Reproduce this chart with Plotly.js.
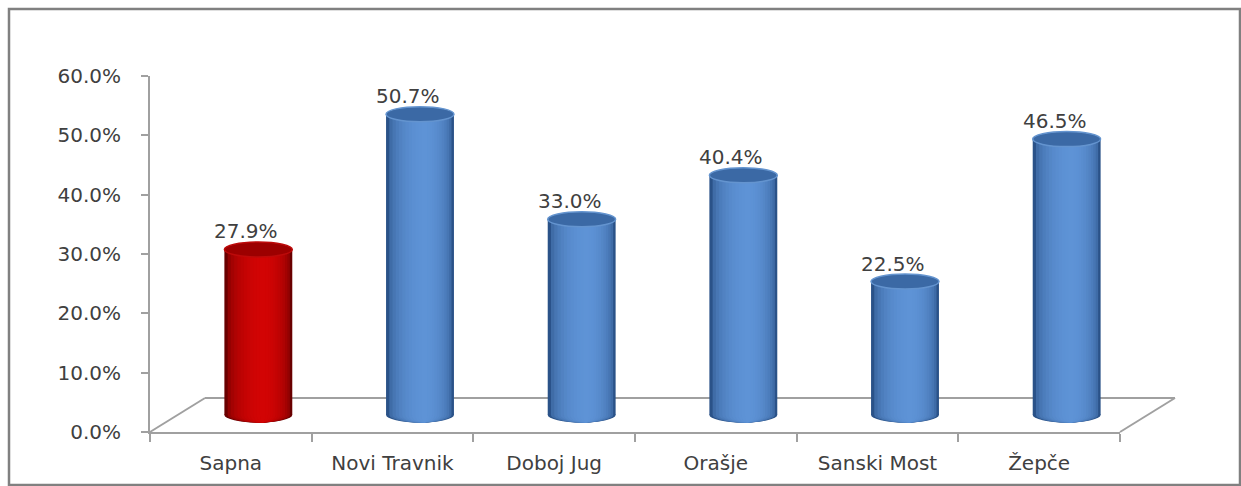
<!DOCTYPE html>
<html>
<head>
<meta charset="utf-8">
<script src="https://cdn.plot.ly/plotly-3.0.1.min.js"></script>
<style>
  html, body { margin: 0; padding: 0; background: #ffffff; }
  #chart { width: 1241px; height: 486px; }
</style>
</head>
<body>
<div id="chart"></div>
<script>
// ---- data ----
const categories = ['Sapna', 'Novi Travnik', 'Doboj Jug', 'Orašje', 'Sanski Most', 'Žepče'];
const values = [27.9, 50.7, 33.0, 40.4, 22.5, 46.5];
const highlightCategory = 'Sapna';
const yTickValues = [0, 10, 20, 30, 40, 50, 60];
const yTickLabels = ['0.0%', '10.0%', '20.0%', '30.0%', '40.0%', '50.0%', '60.0%'];

// ---- geometry (pixels) ----
const W = 1241, H = 486;
const M = { l: 150, r: 65, t: 59, b: 54 };
const plotW = W - M.l - M.r;   // 1026
const plotH = H - M.t - M.b;   // 373
const frontW = 970;            // width of the front x-axis
const frontH = 356;            // height of the y-axis
const depthX = 55, depthY = 34; // 3D floor depth
const midX = 27.5, midY = 17;   // cylinder centre depth offset
const yMax = 60;
const unitPx = frontH / yMax;
const yPadBelow = 2.5;          // room below zero for the cylinder bottoms

const px = x => (x - M.l) / plotW;
const py = y => (M.t + plotH - y) / plotH;

// ---- styles ----
const FONT = 'DejaVu Sans';
const FS = 20;
const TXT = '#404040';
const AXIS = '#a0a0a0';
const palettes = {
  red:  { edge: [105, 0, 0],   center: [210, 4, 4],    top: '#9c0000', rim: '#bd0a0a' },
  blue: { edge: [42, 82, 136], center: [94, 147, 214], top: '#3b69a5', rim: '#6494cf' }
};
const palFor = c => (c === highlightCategory ? palettes.red : palettes.blue);
const mix = (a, b, t) => 'rgb(' + a.map((v, i) => Math.round(v + (b[i] - v) * t)).join(',') + ')';

const barW = 0.42;        // in category units
const ryPx = 7.5;
const ry = ryPx / unitPx; // in y2 data units
const N = 12;
const shift = 0.03;

const traces = [];
const shapes = [];

// floor (behind bars)
const floorLine = { color: AXIS, width: 2 };
shapes.push({ type: 'line', xref: 'paper', yref: 'paper', layer: 'below',
  x0: px(M.l + depthX), y0: py(M.t + plotH - depthY), x1: px(M.l + frontW + depthX), y1: py(M.t + plotH - depthY), line: floorLine });
shapes.push({ type: 'line', xref: 'paper', yref: 'paper', layer: 'below',
  x0: px(M.l), y0: py(M.t + plotH), x1: px(M.l + depthX), y1: py(M.t + plotH - depthY), line: floorLine });
shapes.push({ type: 'line', xref: 'paper', yref: 'paper', layer: 'below',
  x0: px(M.l + frontW), y0: py(M.t + plotH), x1: px(M.l + frontW + depthX), y1: py(M.t + plotH - depthY), line: floorLine });

// cylinder bodies as layered overlay bars
for (let k = 0; k < N; k++) {
  const f = 1 - k / N;                 // width fraction
  const b = Math.sqrt(1 - f * f);      // brightness
  const w = barW * f;
  const off = -w / 2 + shift * (1 - f);
  const colors = categories.map(c => { const p = palFor(c); return mix(p.edge, p.center, b); });
  traces.push({
    type: 'bar', x: categories, y: values, xaxis: 'x2', yaxis: 'y2',
    width: w, offset: off, marker: { color: colors, line: { width: 0 } },
    hoverinfo: 'skip', showlegend: false
  });
  categories.forEach((c, i) => {
    shapes.push({ type: 'circle', xref: 'x2', yref: 'y2', layer: 'below',
      x0: i + off, x1: i + off + w, y0: -ry, y1: ry,
      fillcolor: colors[i], line: { width: 0 } });
  });
}
// cylinder tops
categories.forEach((c, i) => {
  const p = palFor(c);
  shapes.push({ type: 'circle', xref: 'x2', yref: 'y2', layer: 'above',
    x0: i - barW / 2, x1: i + barW / 2, y0: values[i] - ry, y1: values[i] + ry,
    fillcolor: p.top, line: { color: p.rim, width: 1.5 } });
});

// outer frame
shapes.push({ type: 'rect', xref: 'paper', yref: 'paper', layer: 'above',
  x0: px(9), x1: px(1240), y0: py(9), y1: py(485),
  fillcolor: 'rgba(0,0,0,0)', line: { color: '#808080', width: 2.5 } });

// value labels
const annotations = categories.map((c, i) => ({
  xref: 'x2', yref: 'y2', x: i, y: values[i], xshift: -12, yshift: 4,
  yanchor: 'bottom', xanchor: 'center', showarrow: false,
  text: values[i].toFixed(1) + '%', font: { family: FONT, size: FS, color: TXT }
}));

// invisible trace on main axes so they are drawn
traces.push({ type: 'scatter', x: categories, y: values.map(() => null), xaxis: 'x', yaxis: 'y',
  mode: 'markers', hoverinfo: 'skip', showlegend: false });

const layout = {
  width: W, height: H,
  margin: M,
  paper_bgcolor: '#ffffff', plot_bgcolor: 'rgba(0,0,0,0)',
  barmode: 'overlay',
  showlegend: false,
  font: { family: FONT, size: FS, color: TXT },
  xaxis: {
    type: 'category', categoryarray: categories, range: [-0.5, categories.length - 0.5],
    domain: [0, frontW / plotW], anchor: 'y', showgrid: false, zeroline: false,
    showline: true, linecolor: AXIS, linewidth: 2,
    ticks: 'outside', tickson: 'boundaries', ticklen: 8, tickwidth: 2, tickcolor: AXIS,
    ticklabelstandoff: 12, tickfont: { family: FONT, size: FS, color: TXT }, fixedrange: true
  },
  yaxis: {
    range: [0, yMax], domain: [0, frontH / plotH], anchor: 'x',
    tickmode: 'array', tickvals: yTickValues, ticktext: yTickLabels,
    showgrid: false, zeroline: false,
    showline: true, linecolor: AXIS, linewidth: 2,
    ticks: 'outside', ticklen: 7, tickwidth: 2, tickcolor: AXIS,
    ticklabelstandoff: 16, tickfont: { family: FONT, size: FS, color: TXT }, fixedrange: true
  },
  xaxis2: {
    type: 'category', categoryarray: categories, range: [-0.5, categories.length - 0.5],
    domain: [midX / plotW, (frontW + midX) / plotW], anchor: 'y2',
    visible: false, fixedrange: true
  },
  yaxis2: {
    range: [-yPadBelow, yMax],
    domain: [(midY - yPadBelow * unitPx) / plotH, (frontH + midY) / plotH], anchor: 'x2',
    visible: false, fixedrange: true
  },
  shapes: shapes,
  annotations: annotations
};

Plotly.newPlot('chart', traces, layout, { displayModeBar: false, staticPlot: true });
</script>
</body>
</html>
